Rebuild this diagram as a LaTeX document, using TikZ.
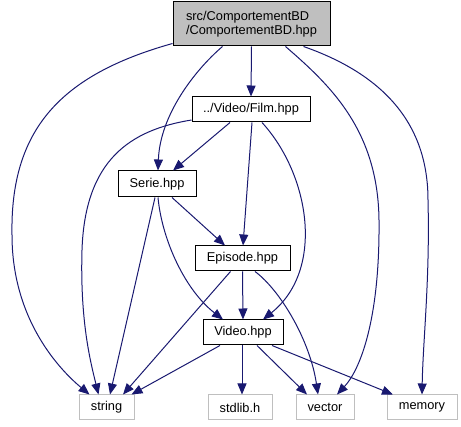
\documentclass[tikz,border=0pt]{standalone}
\usepackage{fontspec}
\setmainfont{Liberation Sans}
\usetikzlibrary{arrows.meta}
\definecolor{edgeblue}{HTML}{191970}
\definecolor{sysgray}{HTML}{BFBFBF}
\tikzset{
  box/.style={draw=black, line width=1pt, minimum height=25pt, inner sep=0pt,
    font=\fontsize{12.8}{14}\selectfont},
  sysbox/.style={box, draw=sysgray},
  edge/.style={draw=edgeblue, line width=1pt, -{Triangle[length=11pt,width=9pt]}}
}
\begin{document}
\begin{tikzpicture}[x=1pt,y=-1pt]
\useasboundingbox (0,0) rectangle (461,427);
\node[box, fill=sysgray, minimum width=157pt, minimum height=44pt, align=left] (top) at (251.5,24) {src/ComportementBD\\/ComportementBD.hpp};
\node[box, minimum width=118pt] (film) at (251,109.5) {../Video/Film.hpp};
\node[box, minimum width=78pt, minimum height=26pt] (serie) at (157,184) {Serie.hpp};
\node[box, minimum width=95pt] (episode) at (242.5,258.5) {Episode.hpp};
\node[box, minimum width=80pt] (video) at (243,332.5) {Video.hpp};
\node[sysbox, minimum width=55pt] (str) at (106.5,407.5) {string};
\node[sysbox, minimum width=64pt] (stdlib) at (240,407.5) {stdlib.h};
\node[sysbox, minimum width=58pt] (vec) at (325,407.5) {vector};
\node[sysbox, minimum width=70pt] (mem) at (422,407.5) {memory};

% from top
\draw[edge] ([yshift=3pt]top.south west) .. controls (60,75) and (10,130) .. (12,235)
   .. controls (12,320) and (60,370) .. ([xshift=-17pt]str.north);
\draw[edge] (top.south) -- (film.north);
\draw[edge] ([xshift=-29pt]top.south) .. controls (195,70) and (160,115) .. ([xshift=1pt]serie.north);
\draw[edge] ([xshift=34pt]top.south) .. controls (330,85) and (378,130) .. (379,220)
   .. controls (380,320) and (360,370) .. ([xshift=12pt]vec.north);
\draw[edge] ([xshift=52pt]top.south) .. controls (385,75) and (428,125) .. (428,200)
   .. controls (430,280) and (423,340) .. (mem.north);

% from film
\draw[edge] ([yshift=-10.5pt]film.west) .. controls (130,130) and (85,160) .. (82,250)
   .. controls (80,320) and (90,360) .. ([xshift=-8pt]str.north);
\draw[edge] ([xshift=-21pt]film.south) -- ([xshift=16pt]serie.north);
\draw[edge] ([xshift=1pt]film.south) -- ([xshift=0.5pt]episode.north);
\draw[edge] ([xshift=11pt]film.south) .. controls (310,175) and (325,270) .. ([xshift=20pt]video.north);

% from serie
\draw[edge] ([xshift=15pt]serie.south) -- ([xshift=-17.5pt]episode.north);
\draw[edge] ([xshift=1pt]serie.south) .. controls (162,240) and (185,290) .. ([xshift=-20pt]video.north);
\draw[edge] ([xshift=-2pt]serie.south) -- ([xshift=3.5pt]str.north);

% from episode
\draw[edge] (episode.south) -- (video.north);
\draw[edge] ([xshift=-12pt]episode.south) -- ([xshift=16.5pt]str.north);
\draw[edge] ([xshift=12.5pt]episode.south) .. controls (280,290) and (310,340) .. ([xshift=-7pt]vec.north);

% from video
\draw[edge] ([xshift=-23pt]video.south) -- ([xshift=25pt]str.north);
\draw[edge] ([xshift=-1pt]video.south) -- ([xshift=2pt]stdlib.north);
\draw[edge] ([xshift=14pt]video.south) -- ([xshift=-18pt]vec.north);
\draw[edge] ([xshift=29pt]video.south) -- ([xshift=-29pt]mem.north);
\end{tikzpicture}
\end{document}
